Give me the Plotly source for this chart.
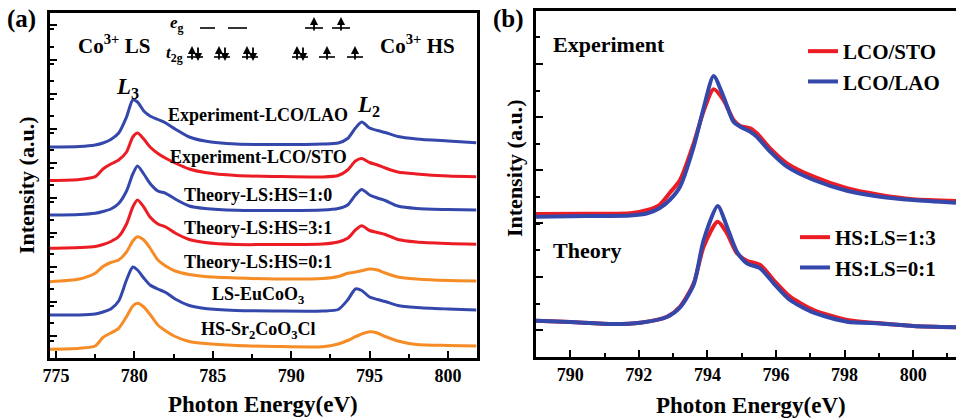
import plotly.graph_objects as go

# ---------------- Panel (a) data: Co L-edge XAS, stacked (a.u.) ----------------
energy_a = [774.6, 776.5, 777.5, 778.0, 778.5, 779.0, 779.5, 779.9, 780.2, 780.6,
            781.0, 781.5, 782.0, 782.6, 783.5, 784.5, 786.5, 789.0, 792.0, 793.0,
            793.6, 794.1, 794.5, 795.0, 795.5, 796.0, 796.8, 798.0, 800.0, 801.8]
exp_lao = [211, 211.5, 213, 215, 218.5, 225, 241, 258, 256, 247,
           242, 238.5, 235, 229, 221, 217, 214, 213.5, 214, 215,
           219.5, 230, 236, 230, 227.5, 225.5, 221.5, 219, 217, 215.3]
exp_sto = [177.5, 178.5, 181.3, 189, 194, 198, 206, 221, 225, 219,
           211, 204.5, 199.7, 195, 189, 185.5, 182.5, 181.5, 181, 182.5,
           188, 197, 199.5, 195.5, 193, 190, 186, 184, 182, 181.3]
th_ls_hs_10 = [143, 143.5, 144.7, 146.5, 149, 154.5, 167, 184, 192, 184,
               174.5, 167, 164.7, 159, 152, 149.5, 147.7, 147.5, 148, 149.5,
               153, 163, 168.5, 163, 160, 157.5, 152, 149.5, 148.5, 148]
th_ls_hs_31 = [109.7, 110.5, 111.5, 113.5, 116.5, 121.5, 134, 151, 158, 151,
               141, 134, 131, 125, 118.5, 115.5, 113.5, 113.5, 114, 116,
               119.7, 128, 132.3, 127.5, 125.5, 123.5, 118.5, 116, 114.5, 113.7]
th_ls_hs_01 = [76.3, 79, 84.7, 91.5, 95.5, 98, 106, 117, 121.3, 118,
               110, 98, 92, 87, 83.5, 81.5, 80, 79, 79.5, 81.5,
               84.7, 86, 87.3, 89, 88, 85, 81, 79, 77.5, 77]
ls_eucoo3 = [43, 43, 44, 46, 49, 57, 78, 91, 88, 80,
             73, 69, 65.5, 59, 52.5, 49.5, 47.5, 47, 47, 48.5,
             58, 69, 67.5, 61, 58.5, 56.5, 52.5, 50.5, 49, 48]
hs_sr2coo3cl = [8.7, 9.7, 12, 20.5, 25, 29.7, 41.3, 52, 54.7, 51,
                43.5, 33, 27, 21.5, 16.5, 14.5, 12.5, 11.5, 11.3, 14,
                17.5, 21.3, 24, 26.3, 25, 21.5, 17, 13.5, 12.5, 12]

names_a = ["Experiment-LCO/LAO", "Experiment-LCO/STO", "Theory-LS:HS=1:0",
           "Theory-LS:HS=3:1", "Theory-LS:HS=0:1", "LS-EuCoO<sub>3</sub>",
           "HS-Sr<sub>2</sub>CoO<sub>3</sub>Cl"]
series_a = [exp_lao, exp_sto, th_ls_hs_10, th_ls_hs_31, th_ls_hs_01, ls_eucoo3, hs_sr2coo3cl]
label_y_a = [243, 201, 163, 130, 96, 63, 28]
label_x_a = 787.9
ticks_a = [775, 780, 785, 790, 795, 800]

# ---------------- Panel (b) data: L2 edge zoom ----------------
energy_b_exp = [789.0, 790.5, 791.75, 792.25, 792.6, 792.9, 793.2, 793.6, 793.9, 794.18,
                794.47, 794.76, 794.96, 795.25, 795.44, 795.83, 796.32, 797.1, 798.07, 799.04,
                800.0, 801.25]
exp_sto_b = [143, 143.3, 143.7, 147, 152, 164, 177, 213.7, 247, 267.7,
             257, 237, 231, 228.7, 223.7, 208.7, 193.7, 180.3, 168.7, 162,
             157.7, 156]
exp_lao_b = [140.3, 141, 141.5, 143.7, 148.7, 157, 170.3, 210.3, 250.3, 281,
             260.3, 235.3, 230.3, 225.3, 220.3, 205.3, 190.3, 177, 166.3, 160.3,
             157, 154.3]
energy_b_th = [789.0, 790.0, 791.26, 792.04, 792.82, 793.2, 793.6, 793.89, 794.3, 794.57,
               794.86, 795.15, 795.54, 795.93, 796.41, 797.1, 798.07, 799.04, 800.0, 801.25]
th_hs_ls_13 = [36.3, 35, 33, 34.3, 40.3, 50.3, 73.7, 110.3, 135.3, 123.7,
               103.7, 96.3, 92, 77, 60.3, 47, 37, 33.7, 31, 29.7]
th_hs_ls_01 = [36.3, 35, 33, 34.3, 40, 49.5, 72.5, 117, 151, 130.3,
               105.3, 93.7, 88.7, 73.7, 57, 44.3, 35.3, 33.5, 31, 29.7]
ticks_b = [790, 792, 794, 796, 798, 800]

BLUE = "rgb(52,72,172)"
RED = "rgb(236,28,36)"
ORANGE = "rgb(246,140,38)"
colors_a = [BLUE, RED, BLUE, RED, ORANGE, BLUE, ORANGE]

SERIF = "Liberation Serif"
W, H = 956, 418


def px(x):
    return x / W


def py(y):
    return 1 - y / H


fig = go.Figure()

for name, ys, c in zip(names_a, series_a, colors_a):
    fig.add_trace(go.Scatter(x=energy_a, y=ys, mode="lines", name=name,
                             line=dict(color=c, width=3, shape="spline", smoothing=0.7),
                             showlegend=False, xaxis="x", yaxis="y"))

fig.add_trace(go.Scatter(x=energy_b_exp, y=exp_sto_b, mode="lines", name="<b>LCO/STO</b>",
                         line=dict(color=RED, width=4, shape="spline", smoothing=0.7),
                         xaxis="x2", yaxis="y2", legend="legend"))
fig.add_trace(go.Scatter(x=energy_b_exp, y=exp_lao_b, mode="lines", name="<b>LCO/LAO</b>",
                         line=dict(color=BLUE, width=4, shape="spline", smoothing=0.7),
                         xaxis="x2", yaxis="y2", legend="legend"))
fig.add_trace(go.Scatter(x=energy_b_th, y=th_hs_ls_13, mode="lines", name="<b>HS:LS=1:3</b>",
                         line=dict(color=RED, width=4, shape="spline", smoothing=0.7),
                         xaxis="x2", yaxis="y2", legend="legend2"))
fig.add_trace(go.Scatter(x=energy_b_th, y=th_hs_ls_01, mode="lines", name="<b>HS:LS=0:1</b>",
                         line=dict(color=BLUE, width=4, shape="spline", smoothing=0.7),
                         xaxis="x2", yaxis="y2", legend="legend2"))

tickfont = dict(family=SERIF, size=18, color="black")
axis_common = dict(showline=True, linecolor="black", linewidth=2.5, ticks="inside",
                   tickcolor="black", tickwidth=2, showgrid=False, zeroline=False)

annotations = []
# curve labels panel a
for name, ly in zip(names_a, label_y_a):
    annotations.append(dict(x=label_x_a, y=ly, xref="x", yref="y", text="<b>%s</b>" % name,
                            xanchor="center", yanchor="middle",
                            showarrow=False, font=dict(family=SERIF, size=18, color="black")))
# panel b labels
annotations.append(dict(x=789.44, y=312, xref="x2", yref="y2", text="<b>Experiment</b>",
                        xanchor="left", yanchor="middle", showarrow=False,
                        font=dict(family=SERIF, size=22, color="black")))
annotations.append(dict(x=789.44, y=107, xref="x2", yref="y2", text="<b>Theory</b>",
                        xanchor="left", yanchor="middle", showarrow=False,
                        font=dict(family=SERIF, size=22, color="black")))


def txt(x, y, t, size, **kw):
    d = dict(x=px(x), y=py(y), xref="paper", yref="paper", text=t, showarrow=False,
             xanchor="center", yanchor="middle",
             font=dict(family=SERIF, size=size, color="black"))
    d.update(kw)
    annotations.append(d)


txt(21, 19, "<b>(a)</b>", 25)
txt(508, 19, "<b>(b)</b>", 25)
txt(114, 44, "<b>Co<sup>3+</sup> LS</b>", 21)
txt(417, 44, "<b>Co<sup>3+</sup> HS</b>", 21)
txt(177, 24, "<b><i>e</i><sub>g</sub></b>", 17)
txt(174, 54, "<b><i>t</i><sub>2g</sub></b>", 17)
txt(127, 88, "<b><i>L</i><sub>3</sub></b>", 23)
txt(368, 106, "<b><i>L</i><sub>2</sub></b>", 23)
txt(263, 404, "<b>Photon Energy(eV)</b>", 23)
txt(751, 405, "<b>Photon Energy(eV)</b>", 23)
txt(27, 185, "<b>Intensity (a.u.)</b>", 22, textangle=-90)
txt(514, 168, "<b>Intensity (a.u.)</b>", 22, textangle=-90)

shapes = []


def level(x0, x1, y):
    shapes.append(dict(type="line", xref="paper", yref="paper", x0=px(x0), x1=px(x1),
                       y0=py(y), y1=py(y), line=dict(color="black", width=1.6)))


def spin(cx, top, bottom, up=True):
    tip, tail = (top, bottom) if up else (bottom, top)
    annotations.append(dict(x=px(cx), y=py(tip), xref="paper", yref="paper", text="",
                            showarrow=True, ax=0, ay=tail - tip, arrowhead=2, arrowsize=0.9,
                            arrowwidth=1.8, arrowcolor="black", standoff=0, startstandoff=0))


# LS diagram
level(200, 215, 28)
level(228, 247, 28)
for cx in (195, 222, 250):
    level(cx - 8, cx + 8, 57)
    spin(cx - 3, 46, 61, up=True)
    spin(cx + 3, 46, 61, up=False)
# HS diagram
for cx in (314, 341):
    level(cx - 9, cx + 9, 28)
    spin(cx, 17, 32, up=True)
level(292, 308, 57)
spin(297, 46, 61, up=True)
spin(303, 46, 61, up=False)
for cx in (327, 355):
    level(cx - 8, cx + 8, 57)
    spin(cx, 46, 61, up=True)

fig.update_layout(
    width=W, height=H, margin=dict(l=0, r=0, t=0, b=0, autoexpand=False),
    plot_bgcolor="white", paper_bgcolor="white",
    xaxis=dict(domain=[px(50), px(477)], range=[774.62, 801.85], anchor="y", mirror=True,
               tickmode="array", tickvals=ticks_a, ticktext=["<b>%d</b>" % t for t in ticks_a],
               ticklen=7, tickfont=tickfont,
               minor=dict(ticks="inside", dtick=2.5, tick0=777.5, ticklen=4, tickwidth=2,
                          tickcolor="black"),
               **axis_common),
    yaxis=dict(domain=[py(358), py(13)], range=[0, 345], anchor="x", mirror=True,
               tickmode="linear", tick0=21.6, dtick=34.6, ticklen=7, showticklabels=False,
               minor=dict(ticks="inside", dtick=17.3, ticklen=4, tickwidth=2, tickcolor="black"),
               **axis_common),
    xaxis2=dict(domain=[px(536), 1.0], range=[789.0, 801.25], anchor="y2", mirror=True,
                tickmode="array", tickvals=ticks_b, ticktext=["<b>%d</b>" % t for t in ticks_b],
                ticklen=7, tickfont=tickfont,
                minor=dict(ticks="inside", dtick=1, tick0=789, ticklen=4, tickwidth=2,
                           tickcolor="black"),
                **axis_common),
    yaxis2=dict(domain=[py(357), py(11)], range=[0, 346], anchor="x2", mirror=False,
                tickmode="linear", tick0=27, dtick=53.3, ticklen=7, showticklabels=False,
                minor=dict(ticks="inside", dtick=26.65, ticklen=4, tickwidth=2, tickcolor="black"),
                **axis_common),
    legend=dict(x=px(803), y=py(31), xanchor="left", yanchor="top", bgcolor="rgba(0,0,0,0)",
                font=dict(family=SERIF, size=21, color="black"), itemwidth=30,
                tracegroupgap=0),
    legend2=dict(x=px(795), y=py(217), xanchor="left", yanchor="top", bgcolor="rgba(0,0,0,0)",
                 font=dict(family=SERIF, size=21, color="black"), itemwidth=30,
                 tracegroupgap=0),
    annotations=annotations,
    shapes=shapes,
)

fig.write_html("out.html", config={"displayModeBar": False},
               post_script="document.body.style.margin='0';")
